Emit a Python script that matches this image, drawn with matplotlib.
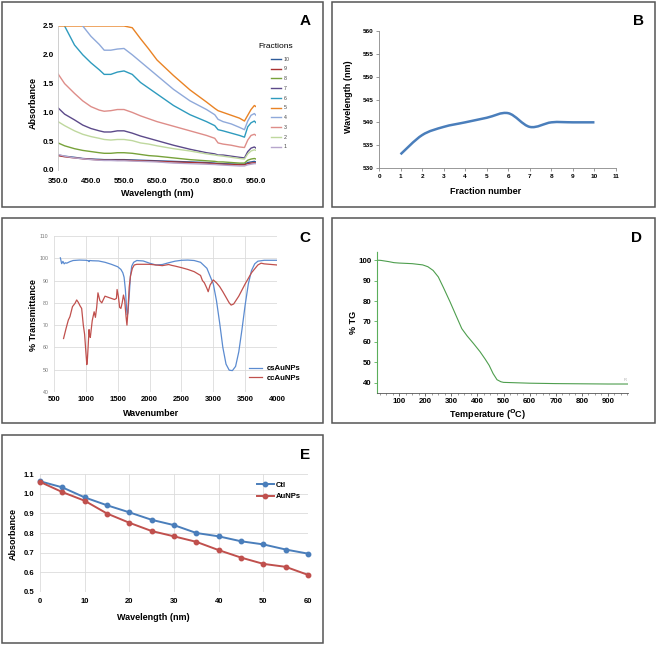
import matplotlib
matplotlib.use("Agg")
import matplotlib.pyplot as plt
import numpy as np
from matplotlib.path import Path
from matplotlib.patches import PathPatch, Rectangle

plt.rcParams["font.family"] = ["Liberation Sans", "DejaVu Sans"]
plt.rcParams["font.weight"] = "bold"

W, H = 658, 646

# ---- panel A: UV-vis spectra of fractions ----
a_wl = [350, 370, 400, 425, 450, 475, 490, 510, 530, 550, 575, 600, 625, 650,
        700, 750, 800, 825, 835, 850, 875, 900, 915, 925, 935, 945, 950]
nan = np.nan
a_f1 = [0.27, 0.24, 0.21, 0.195, 0.18, 0.17, 0.165, 0.165, 0.16, 0.16, 0.155, 0.15, 0.145, 0.14,
        0.12, 0.11, 0.10, 0.095, 0.09, 0.085, 0.078, 0.07, 0.07, 0.09, 0.10, 0.11, 0.11]
a_f2 = [0.84, 0.77, 0.68, 0.62, 0.58, 0.55, 0.53, 0.52, 0.53, 0.53, 0.51, 0.47, 0.45, 0.42,
        0.37, 0.33, 0.28, 0.26, 0.25, 0.24, 0.22, 0.20, 0.19, 0.28, 0.33, 0.35, 0.34]
a_f3 = [1.67, 1.50, 1.33, 1.20, 1.10, 1.04, 1.02, 1.03, 1.05, 1.05, 1.00, 0.94, 0.89, 0.84,
        0.76, 0.68, 0.60, 0.55, 0.47, 0.45, 0.43, 0.40, 0.39, 0.52, 0.60, 0.62, 0.60]
a_f4 = [nan, nan, nan, 2.50, 2.32, 2.18, 2.08, 2.08, 2.10, 2.11, 2.00, 1.88, 1.76, 1.64,
        1.40, 1.20, 1.05, 0.96, 0.88, 0.84, 0.80, 0.74, 0.70, 0.85, 0.95, 0.98, 0.95]
a_f5 = [2.50, 2.50, 2.50, 2.50, 2.50, 2.50, 2.50, 2.50, 2.50, 2.50, 2.47, 2.28, 2.10, 1.91,
        1.64, 1.39, 1.18, 1.07, 1.03, 1.00, 0.95, 0.90, 0.85, 0.95, 1.05, 1.12, 1.10]
a_f6 = [nan, 2.50, 2.17, 2.00, 1.86, 1.74, 1.66, 1.66, 1.70, 1.72, 1.66, 1.52, 1.42, 1.32,
        1.12, 0.96, 0.84, 0.77, 0.70, 0.68, 0.64, 0.60, 0.57, 0.75, 0.82, 0.85, 0.82]
a_f7 = [1.08, 0.97, 0.87, 0.78, 0.72, 0.68, 0.66, 0.66, 0.68, 0.68, 0.64, 0.59, 0.55, 0.51,
        0.43, 0.36, 0.30, 0.28, 0.26, 0.26, 0.24, 0.22, 0.21, 0.32, 0.38, 0.40, 0.38]
a_f8 = [0.47, 0.42, 0.37, 0.34, 0.32, 0.30, 0.29, 0.29, 0.30, 0.30, 0.29, 0.27, 0.25, 0.24,
        0.21, 0.18, 0.16, 0.15, 0.14, 0.14, 0.13, 0.12, 0.12, 0.17, 0.19, 0.20, 0.19]
a_f9 = [0.25, 0.23, 0.21, 0.195, 0.185, 0.175, 0.17, 0.17, 0.17, 0.17, 0.165, 0.16, 0.155, 0.15,
        0.14, 0.13, 0.12, 0.11, 0.105, 0.10, 0.095, 0.09, 0.09, 0.11, 0.12, 0.125, 0.12]
a_f10 = [0.26, 0.24, 0.22, 0.20, 0.19, 0.185, 0.18, 0.18, 0.18, 0.18, 0.175, 0.17, 0.165, 0.16,
         0.15, 0.14, 0.13, 0.12, 0.11, 0.11, 0.105, 0.10, 0.10, 0.13, 0.14, 0.15, 0.14]
a_fractions = ["10", "9", "8", "7", "6", "5", "4", "3", "2", "1"]
a_colors = ["#2F5C9A", "#A93232", "#77A23A", "#5C4A8A", "#2E9BBE",
            "#E98325", "#8FA9DA", "#DE8D89", "#BFD89E", "#B7A6CC"]

# ---- panel B: peak wavelength per fraction ----
b_fraction = [1, 2, 3, 4, 5, 6, 7, 8, 9, 10]
b_peak = [533, 537.2, 539, 540, 541, 542, 539, 540, 540, 540]

# ---- panel C: FTIR ----
c_wn_cs = [600, 620, 640, 660, 680, 700, 750, 800, 900, 1000, 1040, 1050, 1060, 1100, 1200,
           1300, 1400, 1500, 1550, 1580, 1600, 1620, 1640, 1650, 1660, 1680, 1700, 1720, 1750,
           1800, 1900, 2000, 2100, 2200, 2300, 2400, 2500, 2600, 2700, 2800, 2900, 3000, 3050,
           3100, 3150, 3200, 3250, 3300, 3350, 3400, 3450, 3500, 3550, 3600, 3650, 3700, 3800, 4000]
c_tr_cs = [100.2, 97.6, 98.6, 97.5, 98.0, 97.8, 98.5, 99.0, 99.2, 99.1, 98.9, 98.5, 99.0, 98.9, 98.8,
           98.2, 97.3, 96.2, 95.0, 93.5, 91.5, 86.0, 77.0, 74.5, 75.5, 83.0, 92.0, 96.5, 98.2,
           99.0, 98.8, 97.8, 97.0, 97.2, 98.0, 98.7, 99.1, 99.2, 99.0, 98.2, 95.5, 88.5, 81.0,
           71.0, 60.0, 52.5, 49.8, 49.6, 51.5, 58.0, 68.0, 79.0, 88.5, 94.5, 97.5, 98.7, 99.1, 99.1]
c_wn_cc = [650, 690, 725, 750, 790, 830, 856, 882, 908, 934, 960, 980, 1000, 1015, 1025, 1035,
           1050, 1060, 1070, 1100, 1130, 1150, 1170, 1190, 1220, 1250, 1300, 1350, 1400, 1450,
           1480, 1490, 1510, 1530, 1550, 1570, 1590, 1610, 1630, 1645, 1660, 1680, 1700, 1730,
           1760, 1800, 2000, 2100, 2200, 2300, 2350, 2400, 2500, 2600, 2700, 2800, 2830, 2860,
           2900, 2920, 2950, 3000, 3050, 3100, 3150, 3200, 3250, 3280, 3320, 3400, 3500, 3600,
           3700, 3750, 3800, 4000]
c_tr_cc = [64.0, 68.6, 72.3, 73.8, 78.3, 79.8, 81.3, 80.2, 78.7, 77.5, 70.0, 66.0, 58.0, 52.3, 55.0,
           60.0, 68.0, 65.0, 64.5, 72.0, 76.0, 73.5, 78.0, 84.5, 81.0, 80.0, 83.0, 82.5, 82.0, 81.5,
           82.0, 86.0, 83.0, 78.0, 77.5, 80.0, 83.5, 81.0, 74.0, 70.0, 76.0, 87.0, 92.0, 95.5,
           97.0, 97.3, 97.3, 97.0, 96.7, 97.2, 96.8, 96.5, 95.8, 95.0, 94.0, 92.3, 90.0, 89.0,
           86.5, 85.0, 88.0, 90.3, 89.0, 87.3, 85.0, 82.5, 80.0, 79.0, 79.5, 83.0, 88.5, 93.5,
           97.0, 97.8, 97.5, 97.0]

# ---- panel D: TGA ----
d_temp = [15, 30, 60, 80, 100, 150, 190, 210, 230, 250, 270, 295, 320, 340, 360, 385, 410,
          430, 445, 460, 475, 490, 500, 550, 600, 700, 800, 900, 975]
d_tg = [100.0, 99.9, 99.3, 98.8, 98.6, 98.3, 97.7, 96.8, 95.0, 91.8, 86.5, 79.6, 72.3, 66.5,
        63.0, 59.2, 55.2, 51.5, 48.5, 44.5, 41.5, 40.5, 40.2, 40.0, 39.8, 39.6, 39.5, 39.4, 39.4]

# ---- panel E: absorbance vs time ----
e_x = [0, 5, 10, 15, 20, 25, 30, 35, 40, 45, 50, 55, 60]
e_ctl = [1.063, 1.032, 0.981, 0.941, 0.905, 0.867, 0.840, 0.800, 0.783, 0.758, 0.742, 0.716, 0.695]
e_aunp = [1.060, 1.008, 0.964, 0.899, 0.852, 0.810, 0.783, 0.755, 0.713, 0.675, 0.643, 0.628, 0.587]

fig = plt.figure(figsize=(W / 100, H / 100), dpi=100)


def add_ax(x0, y0, x1, y1):
    return fig.add_axes([x0 / W, 1 - y1 / H, (x1 - x0) / W, (y1 - y0) / H])


def ftext(x, y, s, size, rot=0, **kw):
    fig.text(x / W, 1 - y / H, s, ha="center", va="center", fontsize=size,
             rotation=rot, **kw)


def frame(x0, y0, x1, y1):
    fig.add_artist(Rectangle((x0 / W, 1 - y1 / H), (x1 - x0) / W, (y1 - y0) / H,
                             transform=fig.transFigure, fill=False,
                             edgecolor="#555555", lw=1.1))


for box in [(2, 2, 323, 207), (332, 2, 655, 207), (2, 218, 323, 423),
            (332, 218, 655, 423), (2, 435, 323, 643)]:
    frame(*box)

# panel A
ax = add_ax(58, 26, 256, 170)
series_a = [a_f10, a_f9, a_f8, a_f7, a_f6, a_f5, a_f4, a_f3, a_f2, a_f1]
handles = []
for lab, col, vals in zip(a_fractions, a_colors, series_a):
    ln, = ax.plot(a_wl, vals, color=col, lw=1.0, label=lab)
    handles.append(ln)
ax.set_xlim(350, 950)
ax.set_ylim(0, 2.5)
ax.set_xticks(np.arange(350, 951, 100))
ax.set_xticklabels([f"{v:.1f}" for v in np.arange(350, 951, 100)])
ax.set_yticks(np.arange(0, 2.51, 0.5))
ax.set_yticklabels([f"{v:.1f}" for v in np.arange(0, 2.51, 0.5)])
ax.tick_params(axis="x", length=0, labelsize=5.8, pad=5.5)
ax.tick_params(axis="y", length=0, labelsize=5.8, pad=3)
for s in ["top", "right", "bottom"]:
    ax.spines[s].set_visible(False)
ax.spines["left"].set_color("#C8C8C8")
ax.spines["left"].set_linewidth(0.6)
leg = ax.legend(handles=handles, loc="upper left", bbox_to_anchor=(268 / W, 1 - 54 / H),
                bbox_transform=fig.transFigure, frameon=False, fontsize=3.8,
                handlelength=2.0, handletextpad=0.5, labelspacing=0.9, borderpad=0)
for t in leg.get_texts():
    t.set_fontweight("normal")
    t.set_color("#444444")
ftext(276, 46, "Fractions", 6, fontweight="normal")
ftext(157, 193, "Wavelength (nm)", 6.5)
ftext(33, 103, "Absorbance", 6.5, rot=90)
ftext(305, 21, "A", 11)

# panel B
ax = add_ax(379, 31, 616, 168)
verts = [(b_fraction[0], b_peak[0])]
codes = [Path.MOVETO]
pts = np.column_stack([b_fraction, b_peak]).astype(float)
n = len(pts)
for i in range(n - 1):
    p0, p1 = pts[max(i - 1, 0)], pts[i]
    p2, p3 = pts[i + 1], pts[min(i + 2, n - 1)]
    verts += [p1 + (p2 - p0) / 6, p2 - (p3 - p1) / 6, p2]
    codes += [Path.CURVE4] * 3
ax.add_patch(PathPatch(Path(verts, codes), fill=False, edgecolor="#4A7EBB", lw=1.8))
ax.set_xlim(0, 11)
ax.set_ylim(530, 560)
ax.set_xticks(range(0, 12))
ax.set_yticks(range(530, 561, 5))
ax.tick_params(length=2, width=0.6, color="#888888", labelsize=4.6, pad=2)
for s in ["top", "right"]:
    ax.spines[s].set_visible(False)
for s in ["left", "bottom"]:
    ax.spines[s].set_color("#888888")
    ax.spines[s].set_linewidth(0.6)
ftext(486, 192, "Fraction number", 6.5)
ftext(349, 97, "Wavelength (nm)", 6.5, rot=90)
ftext(638, 21, "B", 11)

# panel C
ax = add_ax(54, 236, 277, 392)
ax.plot(c_wn_cs, c_tr_cs, color="#5B8BD0", lw=0.9, label="csAuNPs")
ax.plot(c_wn_cc, c_tr_cc, color="#C0504D", lw=0.9, label="ccAuNPs")
ax.set_xlim(500, 4000)
ax.set_ylim(40, 110)
ax.set_xticks(range(500, 4001, 500))
ax.set_yticks(range(40, 111, 10))
ax.grid(True, color="#DCDCDC", lw=0.6)
ax.set_axisbelow(True)
for s in ax.spines.values():
    s.set_visible(False)
ax.tick_params(axis="x", length=0, labelsize=5.5, pad=3)
ax.tick_params(axis="y", length=0, labelsize=3.8, labelcolor="#777777", pad=4)
for t in ax.get_yticklabels():
    t.set_fontweight("normal")
ax.legend(loc="upper left", bbox_to_anchor=(245 / W, 1 - 361 / H),
          bbox_transform=fig.transFigure, frameon=False, fontsize=5.6,
          handlelength=1.7, handletextpad=0.6, labelspacing=0.3, borderpad=0)
ftext(151, 413, "Wavenumber", 6.5)
ftext(33, 315, "% Transmittance", 6.5, rot=90)
ftext(305, 238, "C", 11)

# panel D
ax = add_ax(377, 251, 628, 393)
ax.plot(d_temp, d_tg, color="#4E9E4E", lw=0.8)
ax.text(967, 41.3, "R", fontsize=3, color="#AAAAAA", fontweight="normal",
        ha="center", va="center")
ax.set_xlim(15, 977)
ax.set_ylim(35, 104.5)
ax.set_xticks(range(100, 901, 100))
ax.set_xticks(range(25, 976, 25), minor=True)
ax.set_yticks(range(40, 101, 10))
for s in ["top", "right"]:
    ax.spines[s].set_visible(False)
ax.spines["left"].set_color("#5AAE5A")
ax.spines["left"].set_linestyle((0, (1, 1)))
ax.spines["left"].set_linewidth(0.8)
ax.spines["bottom"].set_color("#555555")
ax.spines["bottom"].set_linewidth(0.6)
ax.tick_params(axis="y", length=2, width=0.6, color="#5AAE5A", labelsize=5.7, pad=2)
ax.tick_params(axis="x", which="major", length=2, width=0.6, color="#555555",
               labelsize=5.7, pad=1.5)
ax.tick_params(axis="x", which="minor", length=1.2, width=0.4, color="#555555")
ftext(487, 415, r"Temperature ($^{\mathbf{O}}$C)", 6.5)
ftext(353, 322, "% TG", 6.5, rot=90)
ftext(637, 238, "D", 11)

# panel E
ax = add_ax(40, 474, 308, 592)
ax.plot(e_x, e_ctl, color="#4A7EBB", lw=1.4, marker="o", ms=3.2, label="Ctl", clip_on=False)
ax.plot(e_x, e_aunp, color="#C0504D", lw=1.4, marker="o", ms=3.2, label="AuNPs", clip_on=False)
ax.set_xlim(0, 60)
ax.set_ylim(0.5, 1.1)
ax.set_xticks(range(0, 61, 10))
ax.set_yticks(np.arange(0.5, 1.11, 0.1))
ax.set_yticklabels([f"{v:.1f}" for v in np.arange(0.5, 1.11, 0.1)])
ax.grid(True, color="#DCDCDC", lw=0.6)
ax.set_axisbelow(True)
for s in ax.spines.values():
    s.set_visible(False)
ax.tick_params(length=0, labelsize=5.5, pad=4)
ax.legend(loc="upper left", bbox_to_anchor=(253 / W, 1 - 478 / H),
          bbox_transform=fig.transFigure, frameon=False, fontsize=5.5,
          handlelength=2.2, handletextpad=0.3, labelspacing=0.5, borderpad=0)
ftext(153, 617, "Wavelength (nm)", 6.5)
ftext(13, 534, "Absorbance", 6.5, rot=90)
ftext(305, 455, "E", 11)

fig.savefig("out.png", dpi=100)
